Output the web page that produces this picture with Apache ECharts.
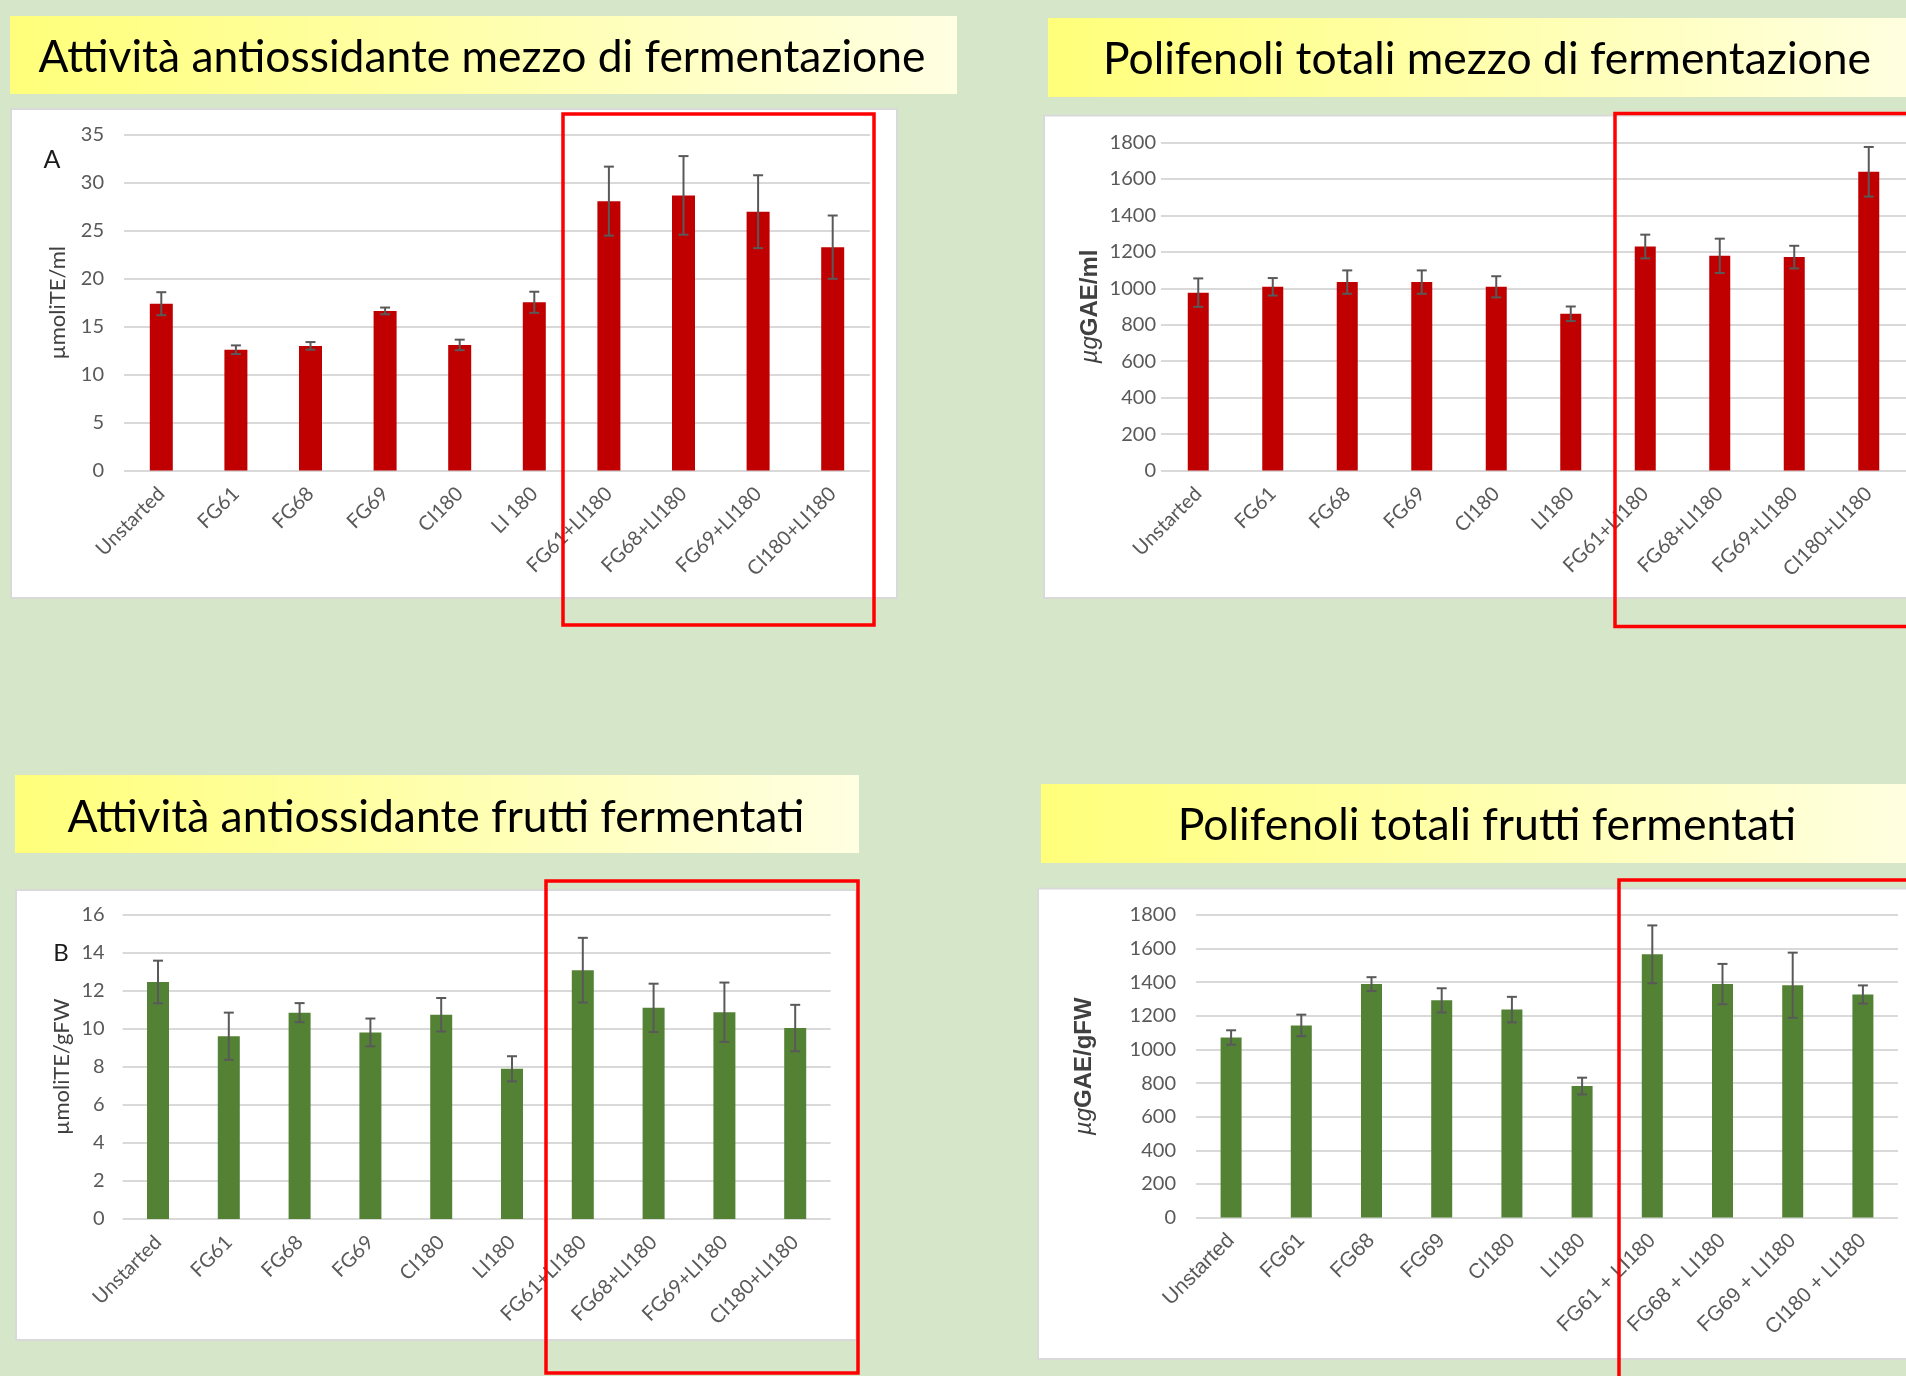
<!DOCTYPE html>
<html><head><meta charset="utf-8">
<script src="https://cdn.jsdelivr.net/npm/echarts@6/dist/echarts.min.js"></script>
<style>html,body{margin:0;padding:0;background:#d6e7c9}#c{width:1906px;height:1376px}</style>
</head><body><div id="c"></div>
<script>
// ---------- data ----------
const titles = [
  'Attività antiossidante mezzo di fermentazione',
  'Polifenoli totali mezzo di fermentazione',
  'Attività antiossidante frutti fermentati',
  'Polifenoli totali frutti fermentati'
];
const yNames = ['µmoliTE/ml', '{i|µg}GAE/ml', 'µmoliTE/gFW', '{i|µg}GAE/gFW'];
const panelTags = ['A', 'B'];

const cats1 = ['Unstarted','FG61','FG68','FG69','CI180','LI 180','FG61+LI180','FG68+LI180','FG69+LI180','CI180+LI180'];
const cats2 = ['Unstarted','FG61','FG68','FG69','CI180','LI180','FG61+LI180','FG68+LI180','FG69+LI180','CI180+LI180'];
const cats3 = ['Unstarted','FG61','FG68','FG69','CI180','LI180','FG61+LI180','FG68+LI180','FG69+LI180','CI180+LI180'];
const cats4 = ['Unstarted','FG61','FG68','FG69','CI180','LI180','FG61 + LI180','FG68 + LI180','FG69 + LI180','CI180 + LI180'];

const val1 = [17.4, 12.6, 13.0, 16.65, 13.1, 17.55, 28.1, 28.7, 27.0, 23.3];
const err1 = [1.2, 0.45, 0.4, 0.35, 0.55, 1.1, 3.6, 4.1, 3.8, 3.3];
const val2 = [976, 1008, 1034, 1034, 1008, 860, 1229, 1178, 1171, 1639];
const err2 = [78, 48, 64, 64, 58, 40, 65, 94, 62, 136];
const val3 = [12.45, 9.6, 10.84, 9.8, 10.73, 7.89, 13.07, 11.09, 10.86, 10.03];
const err3 = [1.12, 1.24, 0.5, 0.73, 0.88, 0.66, 1.7, 1.27, 1.56, 1.22];
const val4 = [1071, 1143, 1389, 1292, 1237, 782, 1566, 1389, 1382, 1327];
const err4 = [43, 64, 41, 72, 76, 50, 172, 120, 194, 54];

const yMax = [35, 1800, 16, 1800];
const yStep = [5, 200, 2, 200];

// ---------- layout / style ----------
const RED = '#c00000', GREEN = '#548235';
const grids = [
  {left:124, top:135, width:746, height:335.5},
  {left:1161, top:142.4, width:765, height:328.2},
  {left:122.6, top:914.4, width:708, height:304.6},
  {left:1196, top:915, width:702, height:302.5}
];
const barW = [23, 21, 22, 21];
const colors = [RED, RED, GREEN, GREEN];
const labelMarginY = [20, 5, 18, 20];
const nameGaps = [55, 59, 50, 100];
const catFont = ['Lato','Lato','Lato','Liberation Sans'];
const catSize = [20, 20, 20, 21];
const nameFont = [
  {fontFamily:'Lato', fontSize:22, fontWeight:'normal', color:'#404040'},
  {fontFamily:'Liberation Sans', fontSize:24, fontWeight:'bold', color:'#404040'},
  {fontFamily:'Lato', fontSize:22, fontWeight:'normal', color:'#404040'},
  {fontFamily:'Liberation Sans', fontSize:24, fontWeight:'bold', color:'#404040'}
];

const cats = [cats1, cats2, cats3, cats4];
const vals = [val1, val2, val3, val4];
const errs = [err1, err2, err3, err4];

function errRender(params, api) {
  const i = api.value(0), v = api.value(1), e = api.value(2);
  const p1 = api.coord([i, v + e]), p2 = api.coord([i, v - e]);
  const w = 5;
  const style = {stroke:'#595959', lineWidth:2};
  return {type:'group', children:[
    {type:'line', shape:{x1:p1[0], y1:p1[1], x2:p2[0], y2:p2[1]}, style},
    {type:'line', shape:{x1:p1[0]-w, y1:p1[1], x2:p1[0]+w, y2:p1[1]}, style},
    {type:'line', shape:{x1:p2[0]-w, y1:p2[1], x2:p2[0]+w, y2:p2[1]}, style}
  ]};
}

const xAxes = [], yAxes = [], series = [];
for (let k = 0; k < 4; k++) {
  xAxes.push({
    type:'category', gridIndex:k, data:cats[k],
    axisLine:{show:false}, axisTick:{show:false},
    axisLabel:{interval:0, rotate:45, margin:20, color:'#595959',
      fontFamily:catFont[k], fontSize:catSize[k]}
  });
  const nf = nameFont[k];
  yAxes.push({
    type:'value', gridIndex:k, min:0, max:yMax[k], interval:yStep[k],
    axisLine:{show:false}, axisTick:{show:false},
    splitLine:{lineStyle:{color:'#d9d9d9', width:2}},
    axisLabel:{color:'#595959', fontFamily:'Lato', fontSize:20, margin:labelMarginY[k],
      formatter:(v) => String(v)},
    name:yNames[k], nameLocation:'middle', nameRotate:90, nameGap:nameGaps[k],
    nameTextStyle:Object.assign({}, nf, {rich:{i:{fontStyle:'italic', fontWeight:'normal',
      fontFamily:nf.fontFamily, fontSize:nf.fontSize, color:nf.color}}})
  });
  series.push({
    type:'bar', xAxisIndex:k, yAxisIndex:k, data:vals[k], barWidth:barW[k],
    itemStyle:{color:colors[k]}, z:3
  });
  series.push({
    type:'custom', xAxisIndex:k, yAxisIndex:k, renderItem:errRender,
    encode:{x:0, y:1}, z:5,
    data:vals[k].map((v, i) => [i, v, errs[k][i]])
  });
}

// title fitting
const mctx = document.createElement('canvas').getContext('2d');
function fitScale(text, font, target) { mctx.font = font; return target / mctx.measureText(text).width; }
const titleFont = '45px Lato';
const titlePos = [
  {cx:482, base:72.4, w:887},
  {cx:1487, base:74.7, w:768},
  {cx:436, base:832, w:737},
  {cx:1487, base:840.7, w:618.5}
];
const banners = [
  {x:10, y:16, w:947, h:78},
  {x:1048, y:18, w:880, h:79},
  {x:15, y:775, w:844, h:78},
  {x:1041, y:784, w:880, h:79}
];
const boxes = [
  {x:11, y:109, w:886, h:489},
  {x:1044, y:115.5, w:880, h:482.5},
  {x:16, y:890, w:840.5, h:450},
  {x:1038, y:888.6, w:880, h:470.4}
];
const redBoxes = [
  {x:563, y:114, w:311, h:511},
  {x:1615, y:113.5, w:320, h:513},
  {x:546, y:881, w:312, h:492},
  {x:1619, y:880, w:320, h:520}
];

const graphic = [];
banners.forEach(b => graphic.push({type:'rect', z:-10, shape:{x:b.x, y:b.y, width:b.w, height:b.h},
  style:{fill:{type:'linear', x:0, y:0, x2:1, y2:0,
    colorStops:[{offset:0, color:'#ffff7a'}, {offset:1, color:'#ffffe2'}]}}}));
boxes.forEach(b => graphic.push({type:'rect', z:-10, shape:{x:b.x, y:b.y, width:b.w, height:b.h},
  style:{fill:'#ffffff', stroke:'#d9d9d9', lineWidth:2}}));
titles.forEach((t, k) => {
  const p = titlePos[k];
  graphic.push({type:'text', z:10, x:p.cx, y:p.base - 15, scaleX:fitScale(t, titleFont, p.w),
    style:{text:t, x:0, y:0, font:titleFont, fill:'#000000', align:'center', verticalAlign:'middle'}});
});
redBoxes.forEach(b => graphic.push({type:'rect', z:100, shape:{x:b.x, y:b.y, width:b.w, height:b.h},
  style:{fill:'none', stroke:'#ff0000', lineWidth:3.5}}));
graphic.push({type:'text', z:10, style:{text:panelTags[0], x:52, y:160, font:'25px Lato',
  fill:'#1a1a1a', align:'center', verticalAlign:'middle'}});
graphic.push({type:'text', z:10, style:{text:panelTags[1], x:61, y:953, font:'24px Lato',
  fill:'#1a1a1a', align:'center', verticalAlign:'middle'}});

const chart = echarts.init(document.getElementById('c'), null, {renderer:'canvas'});
chart.setOption({
  backgroundColor:'#d6e7c9',
  animation:false,
  grid:grids,
  xAxis:xAxes,
  yAxis:yAxes,
  series:series,
  graphic:graphic
});
</script></body></html>
